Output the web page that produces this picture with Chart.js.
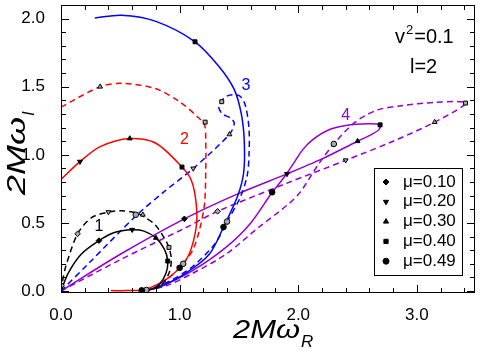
<!DOCTYPE html>
<html>
<head>
<meta charset="utf-8">
<script src="https://cdn.jsdelivr.net/npm/chart.js@4.4.1/dist/chart.umd.min.js"></script>
<style>
  body { margin: 0; background: #fff; }
  canvas { display: block; }
</style>
</head>
<body>
<canvas id="chart" width="480" height="352"></canvas>
<script>
// axis ticks
const xMajor = [0, 1, 2, 3];
const xMinor = [0.2, 0.4, 0.6, 0.8, 1.2, 1.4, 1.6, 1.8, 2.2, 2.4, 2.6, 2.8, 3.2, 3.4];
const yMajor = [0, 0.5, 1.0, 1.5, 2.0];
const yMinor = [0.1, 0.2, 0.3, 0.4, 0.6, 0.7, 0.8, 0.9, 1.1, 1.2, 1.3, 1.4, 1.6, 1.7, 1.8, 1.9, 2.1];

// mu values shown with markers
const muLabels = ['μ=0.10', 'μ=0.20', 'μ=0.30', 'μ=0.40', 'μ=0.49'];

// curve 1 (black)
const curve1Solid = [[0,0],[0.06,0.13],[0.17,0.27],[0.32,0.37],[0.45,0.43],[0.60,0.45],[0.70,0.44],[0.80,0.39],[0.87,0.31],[0.90,0.22],[0.885,0.13],[0.83,0.05],[0.76,0.012],[0.68,0.003]];
const curve1Dash = [[0,0],[0.01,0.06],[0.04,0.18],[0.14,0.42],[0.26,0.54],[0.40,0.58],[0.51,0.59],[0.63,0.575],[0.69,0.55],[0.79,0.49],[0.87,0.39],[0.91,0.32],[0.93,0.23],[0.91,0.13],[0.84,0.04],[0.72,0.003]];
const marks1Solid = [[0.32,0.37],[0.60,0.45],[0.80,0.39],[0.90,0.22],[0.68,0.005]];
const marks1Dash = [[0.14,0.42],[0.40,0.58],[0.69,0.56],[0.91,0.32],[0.72,0.008]];

// curve 2 (red)
const curve2Solid = [[0,0.82],[0.16,0.95],[0.33,1.06],[0.58,1.12],[0.80,1.085],[1.02,0.91],[1.10,0.81],[1.14,0.64],[1.14,0.47],[1.08,0.27],[1.0,0.17],[0.91,0.10],[0.83,0.056],[0.70,0.01],[0.55,0.003],[0.42,0.003]];
const curve2Dash = [[0,1.35],[0.33,1.50],[0.52,1.525],[0.80,1.485],[1.0,1.39],[1.15,1.28],[1.21,1.22],[1.22,1.10],[1.22,0.88],[1.21,0.64],[1.165,0.44],[1.11,0.30],[1.03,0.20],[0.94,0.12],[0.83,0.04],[0.72,0.003]];
const marks2Solid = [null,[0.16,0.95],[0.58,1.12],[1.02,0.91],[1.0,0.17]];
const marks2Dash = [null,null,[0.33,1.50],[1.215,1.24],[1.03,0.20]];

// curve 3 (blue)
const curve3Solid = [[0.285,2.005],[0.51,2.025],[0.80,1.98],[1.13,1.83],[1.33,1.65],[1.46,1.48],[1.52,1.30],[1.545,1.10],[1.54,0.87],[1.49,0.70],[1.37,0.47],[1.25,0.27],[1.05,0.13],[0.83,0.03],[0.70,0.003]];
const curve3Dash = [[0,0],[0.23,0.2],[0.63,0.55],[0.87,0.73],[1.115,0.9],[1.42,1.15],[1.46,1.23],[1.43,1.27],[1.36,1.30],[1.33,1.35],[1.355,1.39],[1.375,1.42],[1.43,1.44],[1.51,1.43],[1.555,1.36],[1.585,1.19],[1.585,1.00],[1.57,0.85],[1.51,0.685],[1.40,0.51],[1.30,0.35],[1.11,0.18],[0.91,0.07],[0.72,0.003]];
const marks3Solid = [null,null,null,[1.13,1.83],[1.37,0.47]];
const marks3Dash = [[0.005,0.04],[1.115,0.9],[1.42,1.15],[1.355,1.39],[1.40,0.51]];
const marks3Extra = [null,null,null,null,[0.63,0.56]];

// curve 4 (violet)
const curve4Solid = [[0,0],[0.5,0.27],[1.04,0.53],[1.48,0.71],[1.905,0.86],[2.2,0.97],[2.50,1.10],[2.62,1.15],[2.68,1.185],[2.69,1.22],[2.59,1.228],[2.40,1.215],[2.25,1.18],[2.12,1.11],[2.04,1.04],[1.97,0.95],[1.905,0.865],[1.845,0.795],[1.78,0.725],[1.60,0.50],[1.39,0.32],[1.11,0.15],[0.83,0.03],[0.70,0.003]];
const curve4Dash = [[0,0],[0.5,0.23],[1.04,0.46],[1.32,0.585],[1.9,0.79],[2.40,0.96],[2.8,1.10],[3.15,1.24],[3.41,1.38],[3.15,1.385],[2.87,1.36],[2.67,1.33],[2.48,1.24],[2.30,1.08],[2.17,0.93],[2.02,0.73],[1.92,0.64],[1.67,0.47],[1.39,0.27],[1.11,0.13],[0.89,0.04],[0.72,0.003]];
const marks4Solid = [[1.04,0.53],[1.905,0.86],[2.50,1.10],[2.69,1.22],[1.78,0.725]];
const marks4Dash = [[1.32,0.585],[2.40,0.96],[3.15,1.24],[3.41,1.38],[2.30,1.08]];

// curve numbers
const curveNames = ['1', '2', '3', '4'];
const curveNameX = [0.32, 1.04, 1.56, 2.40];
const curveNameY = [0.47, 1.11, 1.51, 1.29];

const colors = ['#000000', '#ff0000', '#0000ff', '#9400d3'];
const shapes = ['rectRot', 'triangle', 'triangle', 'rect', 'circle'];
const turns = [0, 180, 0, 0, 0];
const font = '"Liberation Sans", Arial, Helvetica, sans-serif';

function toPts(arr) {
  return arr.map(p => ({ x: p[0], y: p[1] }));
}

function lineSet(arr, color, dashed) {
  return {
    data: toPts(arr),
    showLine: true,
    borderColor: color,
    borderWidth: 1.5,
    borderDash: dashed ? [6, 4] : [],
    pointRadius: 0,
    tension: 0.3,
    fill: false,
    order: 2
  };
}

function markSet(arr, filled) {
  const pts = [], st = [], rot = [];
  arr.forEach((p, i) => {
    if (!p) return;
    pts.push({ x: p[0], y: p[1] });
    st.push(shapes[i]);
    rot.push(turns[i]);
  });
  return {
    data: pts,
    showLine: false,
    pointStyle: st,
    rotation: rot,
    pointRadius: 2.8,
    pointBackgroundColor: filled ? '#000' : '#a8a8a8',
    pointBorderColor: '#000',
    pointBorderWidth: 1,
    order: 1
  };
}

const datasets = [
  lineSet(curve1Solid, colors[0], false), lineSet(curve1Dash, colors[0], true),
  lineSet(curve2Solid, colors[1], false), lineSet(curve2Dash, colors[1], true),
  lineSet(curve3Solid, colors[2], false), lineSet(curve3Dash, colors[2], true),
  lineSet(curve4Solid, colors[3], false), lineSet(curve4Dash, colors[3], true),
  markSet(marks1Solid, true), markSet(marks1Dash, false),
  markSet(marks2Solid, true), markSet(marks2Dash, false),
  markSet(marks3Solid, true), markSet(marks3Dash, false), markSet(marks3Extra, false),
  markSet(marks4Solid, true), markSet(marks4Dash, false)
];

function drawTitle(ctx, main, sub, targetW) {
  ctx.font = 'italic 26px ' + font;
  const w = ctx.measureText(main).width;
  ctx.save();
  ctx.scale(targetW / w, 1);
  ctx.fillText(main, 0, 0);
  ctx.restore();
  ctx.font = 'italic 17px ' + font;
  ctx.fillText(sub, targetW + 1, 9);
}

function noPad(s) {
  s.paddingTop = 0; s.paddingBottom = 0; s.paddingLeft = 0; s.paddingRight = 0;
}

const decor = {
  id: 'decor',
  afterDraw(chart) {
    const { ctx, chartArea: a, scales: { x, y } } = chart;
    ctx.save();
    ctx.strokeStyle = '#000';
    ctx.fillStyle = '#000';
    ctx.lineWidth = 1;
    ctx.strokeRect(a.left + 0.5, a.top + 0.5, a.right - a.left - 1, a.bottom - a.top - 1);

    ctx.beginPath();
    const xt = (v, len) => {
      const px = Math.round(x.getPixelForValue(v)) + 0.5;
      ctx.moveTo(px, a.bottom); ctx.lineTo(px, a.bottom - len);
      ctx.moveTo(px, a.top); ctx.lineTo(px, a.top + len);
    };
    const yt = (v, len) => {
      const py = Math.round(y.getPixelForValue(v)) + 0.5;
      ctx.moveTo(a.left, py); ctx.lineTo(a.left + len, py);
      ctx.moveTo(a.right, py); ctx.lineTo(a.right - len, py);
    };
    xMajor.forEach(v => xt(v, 8));
    xMinor.forEach(v => xt(v, 5));
    yMajor.forEach(v => yt(v, 8));
    yMinor.forEach(v => yt(v, 5));
    ctx.stroke();

    // curve numbers
    ctx.font = '16px ' + font;
    ctx.textAlign = 'center';
    ctx.textBaseline = 'middle';
    curveNames.forEach((t, i) => {
      ctx.fillStyle = colors[i];
      ctx.fillText(t, x.getPixelForValue(curveNameX[i]), y.getPixelForValue(curveNameY[i]));
    });

    // parameters
    ctx.fillStyle = '#000';
    ctx.textAlign = 'left';
    ctx.textBaseline = 'alphabetic';
    ctx.font = '20px ' + font;
    ctx.fillText('v', 395, 43);
    const vw = ctx.measureText('v').width;
    ctx.font = '13px ' + font;
    ctx.fillText('2', 395 + vw + 1, 34);
    const sw = ctx.measureText('2').width;
    ctx.font = '20px ' + font;
    ctx.fillText('=0.1', 395 + vw + sw + 2, 43);
    ctx.fillText('l=2', 410, 73);

    // legend
    ctx.strokeRect(374.5, 168.5, 88, 107);
    ctx.font = '17px ' + font;
    ctx.textBaseline = 'middle';
    muLabels.forEach((t, i) => {
      const ly = 182 + i * 19.8;
      Chart.helpers.drawPoint(ctx, {
        pointStyle: shapes[i], rotation: turns[i], radius: 3, borderWidth: 1
      }, 386, ly);
      ctx.fillText(t, 403, ly);
    });

    // axis titles
    ctx.textBaseline = 'alphabetic';
    ctx.save();
    ctx.translate(233, 338);
    drawTitle(ctx, '2Mω', 'R', 67);
    ctx.restore();
    ctx.save();
    ctx.translate(25, 195);
    ctx.rotate(-Math.PI / 2);
    drawTitle(ctx, '2Mω', 'I', 78);
    ctx.restore();
    ctx.restore();
  }
};

new Chart(document.getElementById('chart'), {
  type: 'scatter',
  data: { datasets },
  options: {
    responsive: false,
    animation: false,
    events: [],
    layout: { padding: { left: 0, right: 3, top: 2, bottom: 0 } },
    plugins: { legend: { display: false }, tooltip: { enabled: false } },
    scales: {
      x: {
        min: 0, max: 3.49,
        grid: { display: false },
        border: { display: false },
        afterBuildTicks: s => { s.ticks = xMajor.map(v => ({ value: v })); },
        afterFit: s => { s.height = 59; noPad(s); },
        ticks: {
          padding: 4, color: '#000', maxRotation: 0, autoSkip: false,
          font: { family: font, size: 17 },
          callback: v => v.toFixed(1)
        }
      },
      y: {
        min: -0.0145, max: 2.1,
        grid: { display: false },
        border: { display: false },
        afterBuildTicks: s => { s.ticks = yMajor.map(v => ({ value: v })); },
        afterFit: s => { s.width = 61; noPad(s); },
        ticks: {
          padding: 8, color: '#000', autoSkip: false,
          font: { family: font, size: 17 },
          callback: v => v.toFixed(1)
        }
      }
    }
  },
  plugins: [decor]
});
</script>
</body>
</html>
